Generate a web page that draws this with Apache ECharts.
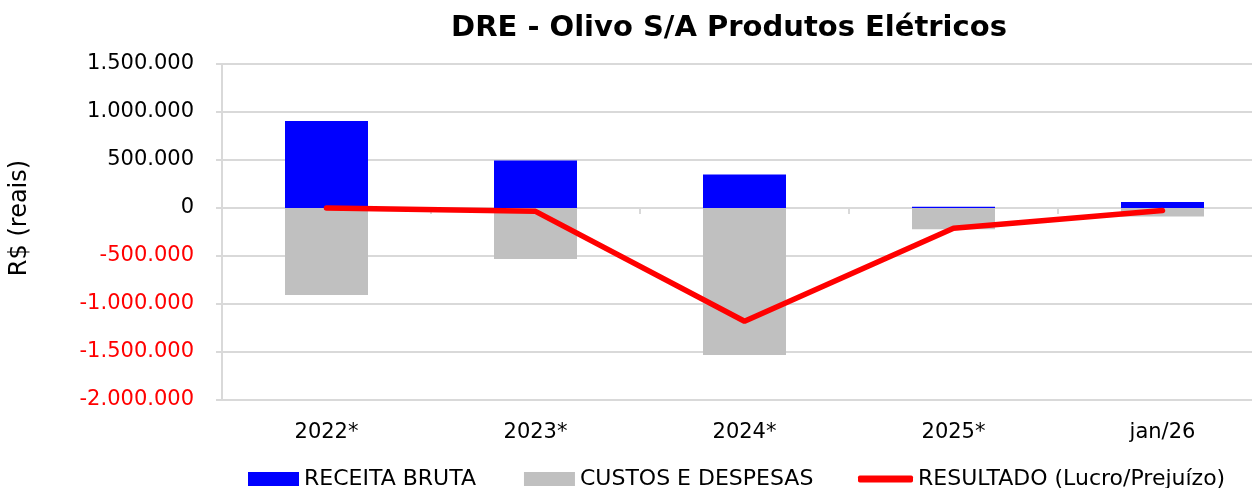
<!DOCTYPE html>
<html>
<head>
<meta charset="utf-8">
<script src="https://cdn.jsdelivr.net/npm/echarts@6/dist/echarts.min.js"></script>
<style>
  html, body { margin: 0; padding: 0; background: #fff; }
  #chart { width: 1252px; height: 488px; }
</style>
</head>
<body>
<div id="chart"></div>
<script>
const categorias = ['2022*', '2023*', '2024*', '2025*', 'jan/26']
const receitaBruta = [905000, 495000, 350000, 12000, 62000]
const custosDespesas = [-905000, -530000, -1530000, -222000, -88000]
const resultado = [0, -35000, -1180000, -210000, -26000]

const fonte = 'DejaVu Sans'

function fmt(v) {
    return String(v).replace(/\B(?=(\d{3})+(?!\d))/g, '.')
}

const chart = echarts.init(document.getElementById('chart'))

chart.setOption({
    animation: false,
    title: {
        text: 'DRE - Olivo S/A Produtos Elétricos',
        left: 724,
        top: 9,
        textAlign: 'center',
        textStyle: { fontFamily: fonte, fontSize: 29, fontWeight: 'bold', color: '#000' }
    },
    legend: [
        {
            left: 243,
            top: 463,
            itemWidth: 51,
            itemHeight: 14,
            itemGap: 48,
            textStyle: { fontFamily: fonte, fontSize: 22, color: '#000' },
            data: [
                { name: 'RECEITA BRUTA', icon: 'rect' },
                { name: 'CUSTOS E DESPESAS', icon: 'rect' }
            ]
        },
        {
            left: 853,
            top: 463,
            itemWidth: 55,
            itemHeight: 7,
            textStyle: { fontFamily: fonte, fontSize: 22, color: '#000' },
            data: [{ name: 'RESULTADO (Lucro/Prejuízo)', icon: 'roundRect' }]
        }
    ],
    grid: { left: 222, top: 64, right: -15, bottom: 88, outerBoundsMode: 'none' },
    xAxis: [
        {
            type: 'category',
            data: categorias,
            position: 'bottom',
            axisLine: { show: false, onZero: false },
            axisTick: { show: false },
            axisLabel: { fontFamily: fonte, fontSize: 21, color: '#000', margin: 22 }
        },
        {
            // eixo no zero, só para os traços entre categorias
            type: 'category',
            data: categorias,
            position: 'bottom',
            axisLine: { onZero: true, lineStyle: { color: '#d9d9d9', width: 2 } },
            axisTick: { show: true, length: 6, lineStyle: { color: '#d9d9d9', width: 2 } },
            axisLabel: { show: false }
        }
    ],
    yAxis: {
        type: 'value',
        min: -2000000,
        max: 1500000,
        interval: 500000,
        name: 'R$ (reais)',
        nameLocation: 'middle',
        nameGap: 190,
        nameTextStyle: { fontFamily: fonte, fontSize: 24, color: '#000', padding: [0, 0, 0, 28] },
        axisLine: { show: true, lineStyle: { color: '#d9d9d9', width: 2 } },
        axisTick: { show: true, length: 6, lineStyle: { color: '#d9d9d9', width: 2 } },
        splitLine: { lineStyle: { color: '#d9d9d9', width: 2 } },
        axisLabel: {
            fontFamily: fonte,
            fontSize: 21,
            margin: 28,
            formatter: v => fmt(v),
            color: v => (Number(v) < 0 ? '#ff0000' : '#000')
        }
    },
    series: [
        {
            name: 'RECEITA BRUTA',
            type: 'bar',
            stack: 'dre',
            barWidth: 83,
            itemStyle: { color: '#0000ff' },
            data: receitaBruta
        },
        {
            name: 'CUSTOS E DESPESAS',
            type: 'bar',
            stack: 'dre',
            barWidth: 83,
            itemStyle: { color: '#c0c0c0' },
            data: custosDespesas
        },
        {
            name: 'RESULTADO (Lucro/Prejuízo)',
            type: 'line',
            symbol: 'none',
            lineStyle: { color: '#ff0000', width: 5.5, cap: 'round' },
            itemStyle: { color: '#ff0000' },
            data: resultado
        }
    ]
})
</script>
</body>
</html>
